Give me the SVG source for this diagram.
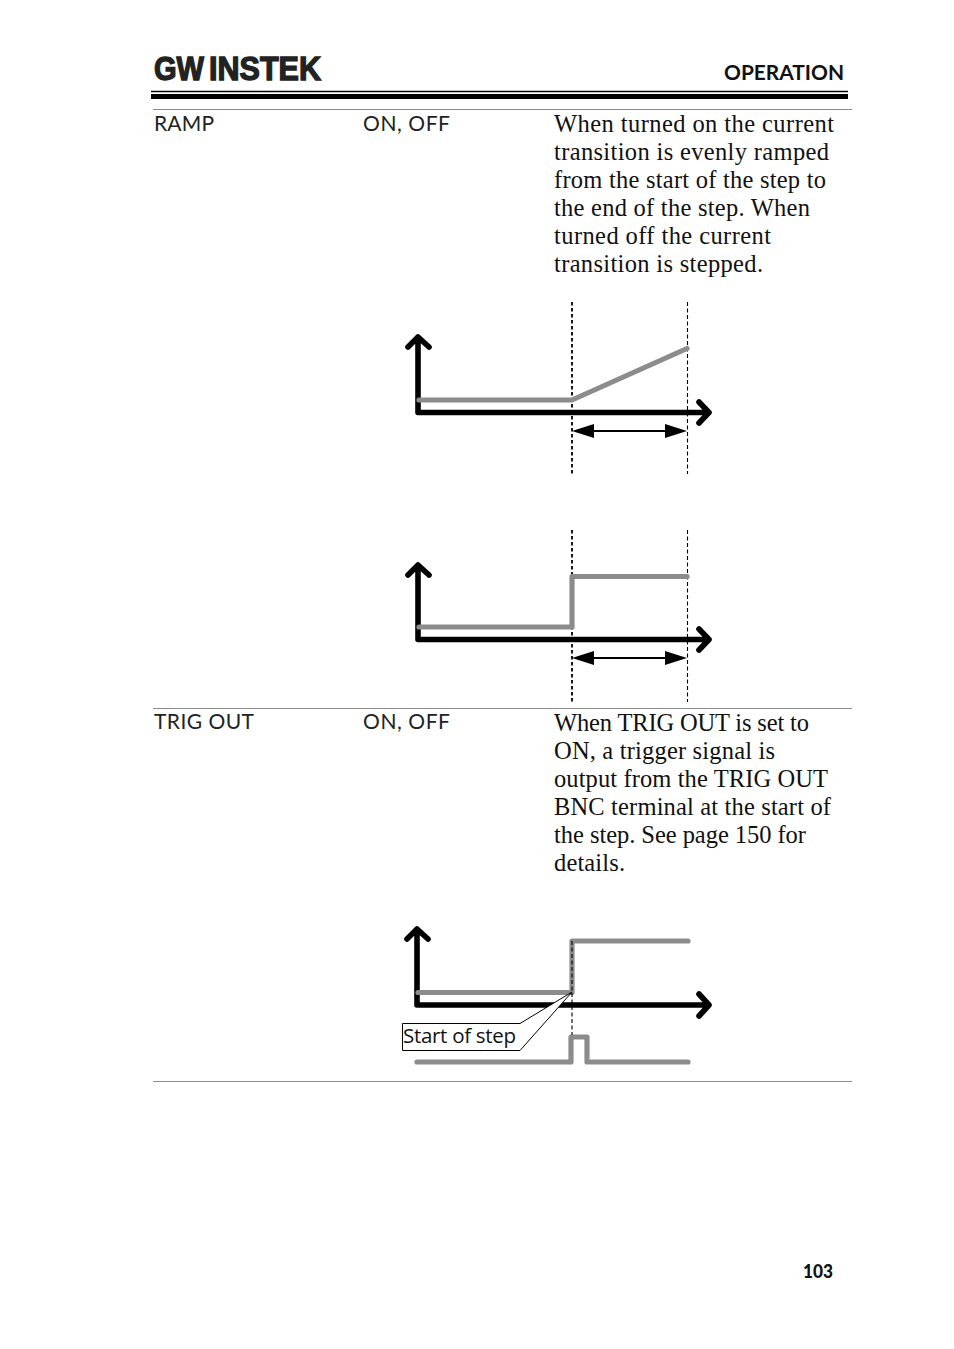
<svg xmlns="http://www.w3.org/2000/svg" width="954" height="1349" viewBox="0 0 954 1349">
<style>
.body{font-family:"Liberation Serif",serif;font-size:24.5px;fill:#111}
.lab{font-family:"Lato","Noto Sans",sans-serif;font-size:21px;fill:#222}
.rule{stroke:#8c8c8c;stroke-width:1;fill:none}
.ax{stroke:#000;stroke-width:5.6;fill:none;stroke-linecap:round;stroke-linejoin:round}
.sig{stroke:#8c8c8c;stroke-width:5.2;fill:none;stroke-linecap:round;stroke-linejoin:round}
.dash{stroke:#000;stroke-width:1.8;fill:none;stroke-dasharray:3.500 2.500}
.dash2{stroke:#000;stroke-width:1.1;fill:none;stroke-dasharray:4 2.500}
.dim{stroke:#000;stroke-width:2;fill:none}
.hd{fill:#000}
.logo{font-family:"Liberation Sans",sans-serif;font-weight:700;font-size:34px;fill:#222;stroke:#222;stroke-width:1.4}
</style>
<rect width="954" height="1349" fill="#fff"/>
<g id="header">
<text class="logo" x="154" y="80" textLength="50" lengthAdjust="spacingAndGlyphs">GW</text>
<text class="logo" x="209" y="80" textLength="112" lengthAdjust="spacingAndGlyphs">INSTEK</text>
<text x="724" y="80" font-family="Lato,sans-serif" font-weight="700" font-size="21" fill="#111" textLength="120" lengthAdjust="spacingAndGlyphs">OPERATION</text>
<path d="M151 91.500H848" stroke="#000" stroke-width="1.300"/>
<path d="M151 96.500H848" stroke="#000" stroke-width="5"/>
</g>
<g id="table-rules">
<path class="rule" d="M153 109.500H852M153 708.500H852M153 1081.500H852"/>
</g>
<g id="row-ramp">
<text class="lab" x="154" y="131" textLength="60">RAMP</text>
<text class="lab" x="363" y="131" textLength="87">ON, OFF</text>
<text class="body" x="554" y="132" textLength="280">When turned on the current</text>
<text class="body" x="554" y="160" textLength="275">transition is evenly ramped</text>
<text class="body" x="554" y="188" textLength="272">from the start of the step to</text>
<text class="body" x="554" y="216" textLength="256">the end of the step. When</text>
<text class="body" x="554" y="244" textLength="217">turned off the current</text>
<text class="body" x="554" y="272" textLength="209">transition is stepped.</text>
</g>
<g id="row-trig">
<text class="lab" x="154" y="729" textLength="100">TRIG OUT</text>
<text class="lab" x="363" y="729" textLength="87">ON, OFF</text>
<text class="body" x="554" y="731" textLength="255">When TRIG OUT is set to</text>
<text class="body" x="554" y="759" textLength="221">ON, a trigger signal is</text>
<text class="body" x="554" y="787" textLength="274">output from the TRIG OUT</text>
<text class="body" x="554" y="815" textLength="277">BNC terminal at the start of</text>
<text class="body" x="554" y="843" textLength="252">the step. See page 150 for</text>
<text class="body" x="554" y="871" textLength="71">details.</text>
</g>
<g id="connectors">
<g id="chart-ramp">
<path class="dash" d="M572 302V474"/>
<path class="dash2" d="M687.500 302V474"/>
<path class="ax" d="M408 347L418 337L429 347M418 337V412.500H709M699 402L709 412.500L699 423"/>
<path class="sig" d="M419 400H572L687 348.500"/>
<path class="dim" d="M590 431H670"/>
<path class="hd" d="M572 431L594 424V438ZM687 431L665 424V438Z"/>
</g>
<g id="chart-step">
<path class="dash" d="M572 530V702"/>
<path class="dash2" d="M687.500 530V702"/>
<path class="ax" d="M408 575L418 565L429 575M418 565V639.500H709M699 629L709 639.500L699 650"/>
<path class="sig" d="M419 627H572V576.500H687"/>
<path class="dim" d="M590 658H670"/>
<path class="hd" d="M572 658L594 651V665ZM687 658L665 651V665Z"/>
</g>
<g id="chart-trig">
<path class="ax" d="M407 939L417 929L428 939M417 929V1005H709M699 994L709 1005L699 1016"/>
<path class="sig" d="M418 992.500H572V941H688"/>
<path class="sig" d="M417 1062H571V1037H587V1062H688"/>
<path class="dash2" d="M572 941V1035"/>
</g>
</g>
<g id="callout-start-of-step">
<path d="M402.500 1023.500H520L572 992L520 1050.500H402.500Z" fill="#fff" stroke="#000" stroke-width="1"/>
<text x="403" y="1043" font-family="'Open Sans','Noto Sans',sans-serif" font-size="20.500" fill="#111" textLength="113">Start of step</text>
</g>
<g id="page-number">
<text x="803" y="1278" font-family="Lato,sans-serif" font-weight="900" font-size="19" fill="#111" textLength="30" lengthAdjust="spacingAndGlyphs">103</text>
</g>
</svg>
